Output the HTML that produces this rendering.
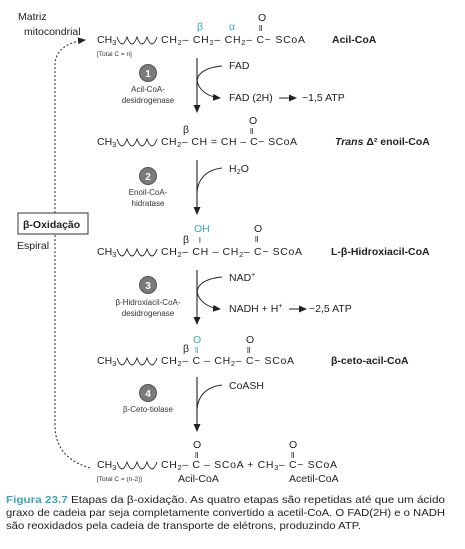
<!DOCTYPE html>
<html><head><meta charset="utf-8"><style>
html,body{margin:0;padding:0;background:#fff;}
svg{display:block;font-family:"Liberation Sans",sans-serif;}
.t{font-size:10.5px;fill:#222;}
.s{font-size:8px;fill:#333;}
.b{font-size:10.5px;font-weight:bold;fill:#222;}
.c{fill:#3aa7b8;}
.n{font-size:10px;font-weight:bold;fill:#fff;}
</style></head><body>
<svg width="465" height="549" viewBox="0 0 465 549" xmlns="http://www.w3.org/2000/svg">
<defs>
<marker id="ah" markerWidth="8" markerHeight="8" refX="7" refY="4" orient="auto" markerUnits="userSpaceOnUse"><path d="M0,0.5 L8,4 L0,7.5 Z" fill="#222"/></marker>
<g id="wave"><path d="M0,-7 q2.5,7 5,7 q2.5,0 5,-7 q2.5,7 5,7 q2.5,0 5,-7 q2.5,7 5,7 q2.5,0 5,-7 q2.5,7 5,7 q2.5,0 5,-7" fill="none" stroke="#222" stroke-width="0.9"/></g>
</defs>

<text class="t" x="18" y="20">Matriz</text>
<text class="t" x="24" y="35">mitocondrial</text>
<path d="M90,468 C70,462 55,450 55,425 L55,65 C55,50 68,42 85,40" fill="none" stroke="#333" stroke-width="1.1" stroke-dasharray="2,2" marker-end="url(#ah)"/>
<rect x="18" y="213" width="70" height="21" fill="#fff" stroke="#333" stroke-width="1"/>
<text class="b" x="23" y="228">β-Oxidação</text>
<text class="t" x="17" y="249">Espiral</text>

<!-- Row 1 -->
<text class="t c" x="197" y="30">β</text>
<text class="t c" x="229" y="30">α</text>
<text class="t" x="258" y="21">O</text><text class="t" x="259" y="31" style="font-size:8px">ll</text>
<text class="t" x="97" y="43">CH<tspan dy="2" font-size="7.5">3</tspan></text>
<use href="#wave" x="117" y="44"/>
<text class="t" x="161" y="43" textLength="144" lengthAdjust="spacing">CH<tspan dy="2" font-size="7.5">2</tspan><tspan dy="-2">– CH</tspan><tspan dy="2" font-size="7.5">2</tspan><tspan dy="-2">– CH</tspan><tspan dy="2" font-size="7.5">2</tspan><tspan dy="-2">– C~ SCoA</tspan></text>
<text class="b" x="332" y="43">Acil-CoA</text>
<text class="s" x="97" y="56" style="font-size:6.5px">[Total C = n]</text>

<line x1="197" y1="58" x2="197" y2="112" stroke="#222" stroke-width="1.1" marker-end="url(#ah)"/>
<circle cx="148" cy="73" r="8.5" fill="#7a7a7a" stroke="#555"/><text class="n" x="148" y="77" text-anchor="middle">1</text>
<text class="s" x="148" y="92" text-anchor="middle">Acil-CoA-</text>
<text class="s" x="148" y="103" text-anchor="middle">desidrogenase</text>
<path d="M222,66 C200,68 195,78 198,84 C201,92 210,97 220,98" fill="none" stroke="#222" stroke-width="1" marker-end="url(#ah)"/>
<text class="t" x="229" y="69">FAD</text>
<text class="t" x="229" y="101">FAD (2H)</text>
<line x1="279" y1="98" x2="296" y2="98" stroke="#222" stroke-width="1" marker-end="url(#ah)"/>
<text class="t" x="302" y="101">~1,5 ATP</text>

<!-- Row 2 -->
<text class="t" x="183" y="133">β</text>
<text class="t" x="249" y="124">O</text><text class="t" x="250" y="134" style="font-size:8px">ll</text>
<text class="t" x="97" y="145">CH<tspan dy="2" font-size="7.5">3</tspan></text>
<use href="#wave" x="117" y="146"/>
<text class="t" x="161" y="145" textLength="136" lengthAdjust="spacing">CH<tspan dy="2" font-size="7.5">2</tspan><tspan dy="-2">– CH = CH – C~ SCoA</tspan></text>
<text class="b" x="335" y="145"><tspan font-style="italic">Trans</tspan> Δ² enoil-CoA</text>

<line x1="197" y1="160" x2="197" y2="214" stroke="#222" stroke-width="1.1" marker-end="url(#ah)"/>
<circle cx="148" cy="176" r="8.5" fill="#7a7a7a" stroke="#555"/><text class="n" x="148" y="180" text-anchor="middle">2</text>
<text class="s" x="148" y="195" text-anchor="middle">Enoil-CoA-</text>
<text class="s" x="148" y="206" text-anchor="middle">hidratase</text>
<path d="M222,168 C205,170 198,180 197,192" fill="none" stroke="#222" stroke-width="1"/>
<text class="t" x="229" y="172">H<tspan dy="2" font-size="7.5">2</tspan><tspan dy="-2">O</tspan></text>

<!-- Row 3 -->
<text class="t c" x="194" y="232">OH</text>
<text class="t" x="199" y="243" style="font-size:8px">l</text>
<text class="t" x="183" y="243">β</text>
<text class="t" x="254" y="232">O</text><text class="t" x="255" y="242" style="font-size:8px">ll</text>
<text class="t" x="97" y="255">CH<tspan dy="2" font-size="7.5">3</tspan></text>
<use href="#wave" x="117" y="256"/>
<text class="t" x="161" y="255" textLength="141" lengthAdjust="spacing">CH<tspan dy="2" font-size="7.5">2</tspan><tspan dy="-2">– CH – CH</tspan><tspan dy="2" font-size="7.5">2</tspan><tspan dy="-2">– C~ SCoA</tspan></text>
<text class="b" x="331" y="255">L-β-Hidroxiacil-CoA</text>

<line x1="197" y1="270" x2="197" y2="324" stroke="#222" stroke-width="1.1" marker-end="url(#ah)"/>
<circle cx="148" cy="285" r="8.5" fill="#7a7a7a" stroke="#555"/><text class="n" x="148" y="289" text-anchor="middle">3</text>
<text class="s" x="148" y="305" text-anchor="middle">β-Hidroxiacil-CoA-</text>
<text class="s" x="148" y="316" text-anchor="middle">desidrogenase</text>
<path d="M222,277 C200,279 195,289 198,295 C201,303 210,308 220,309" fill="none" stroke="#222" stroke-width="1" marker-end="url(#ah)"/>
<text class="t" x="229" y="281">NAD<tspan dy="-4" font-size="7">+</tspan></text>
<text class="t" x="229" y="312">NADH + H<tspan dy="-4" font-size="7">+</tspan></text>
<line x1="289" y1="309" x2="306" y2="309" stroke="#222" stroke-width="1" marker-end="url(#ah)"/>
<text class="t" x="309" y="312">~2,5 ATP</text>

<!-- Row 4 -->
<text class="t c" x="193" y="343">O</text><text class="c" x="195" y="353" style="font-size:8px">ll</text>
<text class="t" x="183" y="352">β</text>
<text class="t" x="246" y="343">O</text><text class="t" x="247" y="353" style="font-size:8px">ll</text>
<text class="t" x="97" y="364">CH<tspan dy="2" font-size="7.5">3</tspan></text>
<use href="#wave" x="117" y="365"/>
<text class="t" x="161" y="364" textLength="133" lengthAdjust="spacing">CH<tspan dy="2" font-size="7.5">2</tspan><tspan dy="-2">– C – CH</tspan><tspan dy="2" font-size="7.5">2</tspan><tspan dy="-2">– C~ SCoA</tspan></text>
<text class="b" x="331" y="364">β-ceto-acil-CoA</text>

<line x1="197" y1="377" x2="197" y2="431" stroke="#222" stroke-width="1.1" marker-end="url(#ah)"/>
<circle cx="148" cy="393" r="8.5" fill="#7a7a7a" stroke="#555"/><text class="n" x="148" y="397" text-anchor="middle">4</text>
<text class="s" x="148" y="412" text-anchor="middle">β-Ceto-tiolase</text>
<path d="M222,385 C205,387 198,397 197,409" fill="none" stroke="#222" stroke-width="1"/>
<text class="t" x="229" y="389">CoASH</text>

<!-- Row 5 -->
<text class="t" x="193" y="448">O</text><text class="t" x="195" y="458" style="font-size:8px">ll</text>
<text class="t" x="289" y="448">O</text><text class="t" x="291" y="458" style="font-size:8px">ll</text>
<text class="t" x="97" y="468">CH<tspan dy="2" font-size="7.5">3</tspan></text>
<use href="#wave" x="117" y="469"/>
<text class="t" x="161" y="468" textLength="176" lengthAdjust="spacing">CH<tspan dy="2" font-size="7.5">2</tspan><tspan dy="-2">– C – SCoA + CH</tspan><tspan dy="2" font-size="7.5">3</tspan><tspan dy="-2">– C~ SCoA</tspan></text>
<text class="s" x="97" y="481" style="font-size:6.5px">[Total C = (n-2)]</text>
<text class="t" x="178" y="482">Acil-CoA</text>
<text class="t" x="289" y="482">Acetil-CoA</text>

<!-- Caption -->
<text style="font-size:10.3px" fill="#222" x="6" y="503" textLength="439" lengthAdjust="spacingAndGlyphs"><tspan font-weight="bold" fill="#3aa7b8">Figura 23.7</tspan> Etapas da β-oxidação. As quatro etapas são repetidas até que um ácido</text>
<text style="font-size:10.3px" fill="#222" x="6" y="516" textLength="439" lengthAdjust="spacingAndGlyphs">graxo de cadeia par seja completamente convertido a acetil-CoA. O FAD(2H) e o NADH</text>
<text style="font-size:10.3px" fill="#222" x="6" y="529" textLength="355" lengthAdjust="spacingAndGlyphs">são reoxidados pela cadeia de transporte de elétrons, produzindo ATP.</text>
</svg>
</body></html>
